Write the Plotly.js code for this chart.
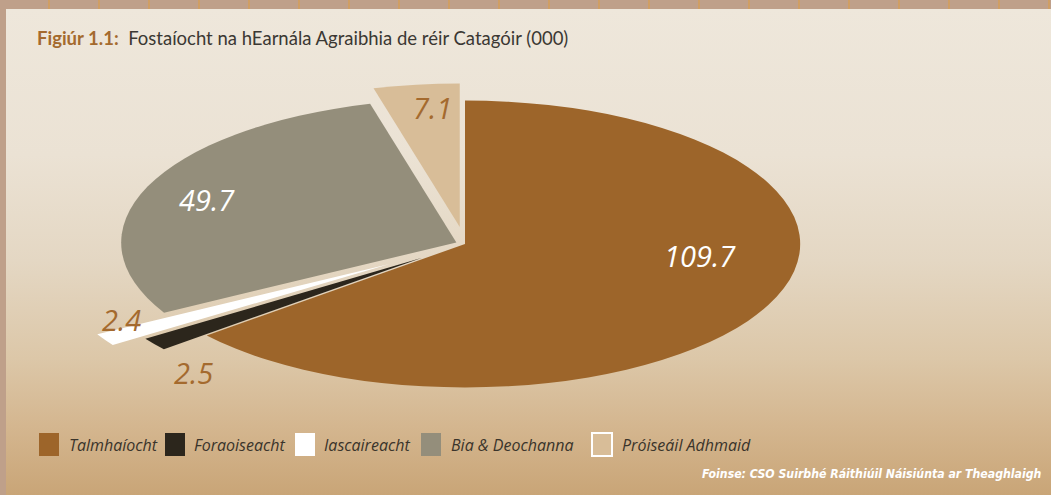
<!DOCTYPE html>
<html><head><meta charset="utf-8">
<script src="https://cdn.plot.ly/plotly-3.0.1.min.js"></script>
<style>
html,body{margin:0;padding:0;width:1051px;height:495px;overflow:hidden;}
body{position:relative;background-color:#bfa08a;background-image:repeating-linear-gradient(90deg, transparent 0 48px, rgba(214,158,85,0.7) 48px 50px);}
#panel{position:absolute;left:6px;top:9px;width:1045px;height:486px;background:linear-gradient(180deg,#eee7db 0%,#ebe2d4 30%,#e4d7c3 52%,#dcc7a8 72%,#d4b68f 86%,#c9a577 100%);}
#pie{position:absolute;left:0;transform-origin:50% 50%;}
#main{position:absolute;left:0;top:0;width:1051px;height:495px;}
</style></head>
<body>
<div id="panel"></div>
<div id="pie"></div>
<div id="main"></div>
<script>
// ---- data ----
const categories = ['Talmhaíocht', 'Foraoiseacht', 'Iascaireacht', 'Bia & Deochanna', 'Próiseáil Adhmaid'];
const values = [109.7, 2.5, 2.4, 49.7, 7.1];
const valueLabels = ['109.7', '2.5', '2.4', '49.7', '7.1'];
const titleBold = 'Figiúr 1.1:';
const titleText = 'Fostaíocht na hEarnála Agraibhia de réir Catagóir (000)';
const sourceText = 'Foinse: CSO Suirbhé Ráithiúil Náisiúnta ar Theaghlaigh';

// ---- styles ----
const colors = ['#9d652a', '#2c261c', '#ffffff', '#948e7b', '#d8bd98'];
const pulls = [0, 0.16, 0.265, 0.028, 0.12];
const labelColors = ['#ffffff', '#a46a2e', '#a46a2e', '#ffffff', '#a46a2e'];
const labelPos = [[700, 255], [193, 372], [121, 319], [207, 200], [432, 107]];
const W = 1051, H = 495;
const cx = 465, cy = 244, rx = 335, ry = 143.4;
const maxPull = Math.max(...pulls);
const R = Math.round(rx * (1 + maxPull));
const pieDiv = document.getElementById('pie');
pieDiv.style.width = W + 'px';
pieDiv.style.height = (2 * R) + 'px';
pieDiv.style.top = (cy - R) + 'px';
pieDiv.style.transform = 'scaleY(' + (ry / rx) + ')';

Plotly.newPlot('pie', [{
  type: 'pie',
  labels: categories,
  values: values,
  sort: false,
  direction: 'clockwise',
  rotation: 0,
  pull: pulls,
  marker: {colors: colors, line: {width: 0}},
  textinfo: 'none',
  hoverinfo: 'label+value',
  showlegend: false,
  domain: {x: [(cx - R) / W, (cx + R) / W], y: [0, 1]}
}], {
  width: W, height: 2 * R,
  margin: {l: 0, r: 0, t: 0, b: 0},
  paper_bgcolor: 'rgba(0,0,0,0)',
  plot_bgcolor: 'rgba(0,0,0,0)',
  showlegend: false
}, {staticPlot: true});

const px = x => x / W;
const py = y => 1 - y / H;
const annotations = [];
const shapes = [];

annotations.push({
  xref: 'paper', yref: 'paper', x: px(35), y: py(38), xanchor: 'left', yanchor: 'middle',
  showarrow: false,
  text: '<b><span style="color:#a46a2e">' + titleBold + '</span></b>  ' + titleText,
  font: {family: 'Lato, "Open Sans", sans-serif', size: 18.5, color: '#3b3833'}
});

categories.forEach((c, i) => {
  annotations.push({
    xref: 'paper', yref: 'paper', x: px(labelPos[i][0]), y: py(labelPos[i][1]),
    xanchor: 'center', yanchor: 'middle', showarrow: false,
    text: '<i>' + valueLabels[i] + '</i>',
    font: {family: '"Open Sans", "Noto Sans", sans-serif', size: 29, color: labelColors[i]}
  });
});

// legend
const legendX = [39, 165, 295, 421, 592];
const legendTextX = [67, 192, 322, 449, 620];
categories.forEach((c, i) => {
  shapes.push({
    type: 'rect', xref: 'paper', yref: 'paper',
    x0: px(legendX[i]), x1: px(legendX[i] + 20), y0: py(456), y1: py(433),
    fillcolor: colors[i],
    line: {width: i === 4 ? 2 : 0, color: '#ffffff'}
  });
  annotations.push({
    xref: 'paper', yref: 'paper', x: px(legendTextX[i]), y: py(444.5),
    xanchor: 'left', yanchor: 'middle', showarrow: false,
    text: '<i>' + c + '</i>',
    font: {family: '"Open Sans", "Noto Sans", sans-serif', size: 16, color: '#3a342b'}
  });
});

annotations.push({
  xref: 'paper', yref: 'paper', x: px(1044), y: py(474), xanchor: 'right', yanchor: 'middle',
  showarrow: false,
  text: '<b><i>' + sourceText + '</i></b>',
  font: {family: '"Liberation Sans Narrow", "DejaVu Sans Condensed", sans-serif', size: 12.2, color: '#ffffff'}
});

Plotly.newPlot('main', [], {
  width: W, height: H,
  margin: {l: 0, r: 0, t: 0, b: 0},
  paper_bgcolor: 'rgba(0,0,0,0)',
  plot_bgcolor: 'rgba(0,0,0,0)',
  xaxis: {visible: false}, yaxis: {visible: false},
  annotations: annotations,
  shapes: shapes,
  showlegend: false
}, {staticPlot: true});
</script>
</body></html>
